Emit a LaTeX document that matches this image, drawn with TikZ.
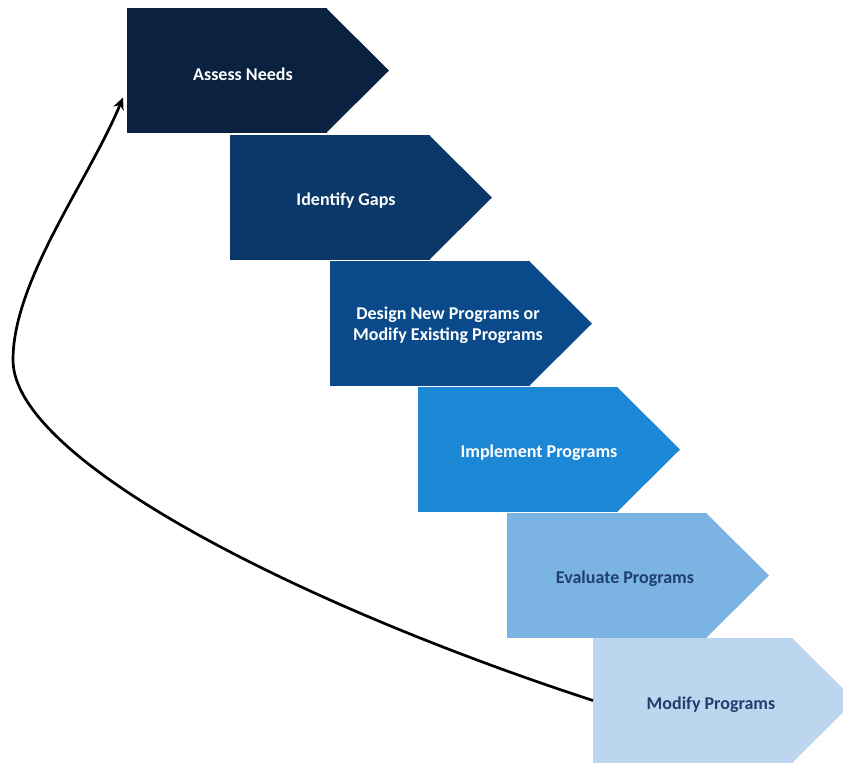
\documentclass[tikz,border=0pt]{standalone}
\usepackage{fontspec}
\setmainfont{Carlito}
\usetikzlibrary{arrows.meta}
\definecolor{cA}{HTML}{0A2140}
\definecolor{cB}{HTML}{0B3868}
\definecolor{cC}{HTML}{0B4A8A}
\definecolor{cD}{HTML}{1C87D5}
\definecolor{cE}{HTML}{7BB3E3}
\definecolor{cF}{HTML}{BCD6F0}
\definecolor{txtdark}{HTML}{1F3F6E}
\tikzset{
  body/.style={anchor=north west, minimum width=200pt, minimum height=125pt, inner sep=0pt, outer sep=0pt, draw=none, fill=#1},
  lbl/.style={font=\bfseries\fontsize{18}{21}\selectfont, align=center, inner sep=0pt},
  loop/.style={line width=2.7pt, black, -{Stealth[length=12pt,width=11pt]}}
}
\newcommand{\steptip}[2]{\fill[#2] ([xshift=-1pt]#1.north east) -- ([xshift=62pt]#1.east) -- ([xshift=-1pt]#1.south east) -- cycle;}
\begin{document}
\begin{tikzpicture}[x=1pt,y=-1pt]
\useasboundingbox (0,0) rectangle (843,764);
\fill[white] (0,0) rectangle (843,764);
% steps
\node[body=cA] (s1) at (127,8) {};
\steptip{s1}{cA}
\node[body=cB] (s2) at (230,135) {};
\steptip{s2}{cB}
\node[body=cC] (s3) at (330,261) {};
\steptip{s3}{cC}
\node[body=cD] (s4) at (418,387) {};
\steptip{s4}{cD}
\node[body=cE] (s5) at (507,513) {};
\steptip{s5}{cE}
\node[body=cF] (s6) at (593,638) {};
\steptip{s6}{cF}
% labels
\node[lbl, text=white] (l1) at ([xshift=16pt,yshift=-4pt]s1.center) {Assess Needs};
\node[lbl, text=white] (l2) at ([xshift=16pt,yshift=-3pt]s2.center) {Identify Gaps};
\node[lbl, text=white] (l3) at ([xshift=18pt,yshift=-2pt]s3.center) {Design New Programs or\\Modify Existing Programs};
\node[lbl, text=white] (l4) at ([xshift=21pt,yshift=-3pt]s4.center) {Implement Programs};
\node[lbl, text=txtdark] (l5) at ([xshift=18pt,yshift=-3pt]s5.center) {Evaluate Programs};
\node[lbl, text=txtdark] (l6) at ([xshift=18pt,yshift=-4pt]s6.center) {Modify Programs};
% feedback connector
\coordinate (bend) at (13,360);
\draw[loop] (s6.west) .. controls (300,605) and (13,460) .. (bend)
  .. controls (13,280) and (89,180) .. ([xshift=-4pt,yshift=-27pt]s1.west);
\end{tikzpicture}
\end{document}
